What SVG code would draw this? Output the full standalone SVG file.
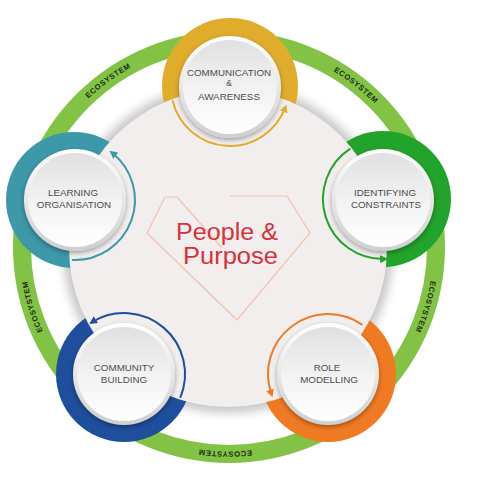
<svg xmlns="http://www.w3.org/2000/svg" width="489" height="481" viewBox="0 0 489 481">
<style>
.lbl{font-family:"Liberation Sans",Arial,sans-serif;font-size:9.8px;fill:#4d4d4d;text-anchor:middle}
.eco{font-family:"Liberation Sans",Arial,sans-serif;font-size:7.6px;font-weight:bold;fill:#1c2e12;letter-spacing:0.6px}
.conn{fill:none;stroke-width:2}
.rim{fill:url(#rim)}
.face{fill:url(#face)}
.big{font-family:"Liberation Sans",Arial,sans-serif;font-size:23px;fill:#d6323a}
</style>
<defs>
<radialGradient id="discShadow" cx="228" cy="248" r="176" gradientUnits="userSpaceOnUse">
<stop offset="0.88" stop-color="#bcbcbc"/>
<stop offset="0.93" stop-color="#dcdcdc"/>
<stop offset="1" stop-color="#ffffff" stop-opacity="0"/>
</radialGradient>
<linearGradient id="rim" x1="0" y1="0" x2="0" y2="1">
<stop offset="0" stop-color="#ffffff"/>
<stop offset="1" stop-color="#cfcfcf"/>
</linearGradient>
<linearGradient id="face" x1="0" y1="0" x2="0" y2="1">
<stop offset="0" stop-color="#e0e0e0"/>
<stop offset="0.5" stop-color="#f2f2f2"/>
<stop offset="1" stop-color="#ffffff"/>
</linearGradient>
<filter id="sh" x="-30%" y="-30%" width="160%" height="160%">
<feGaussianBlur in="SourceAlpha" stdDeviation="2.5"/>
<feOffset dx="0" dy="2" result="o"/>
<feComponentTransfer><feFuncA type="linear" slope="0.35"/></feComponentTransfer>
<feMerge><feMergeNode/><feMergeNode in="SourceGraphic"/></feMerge>
</filter>
<mask id="outside" maskUnits="userSpaceOnUse" x="0" y="0" width="489" height="481">
<rect width="489" height="481" fill="#fff"/>
<circle cx="228" cy="248" r="159" fill="#000"/>
</mask>
<marker id="aY" markerUnits="userSpaceOnUse" markerWidth="8" markerHeight="8" refX="5" refY="4" orient="auto"><path d="M0,0 L8,4 L0,8 z" fill="#e0ac2c"/></marker>
<marker id="aG" markerUnits="userSpaceOnUse" markerWidth="8" markerHeight="8" refX="5" refY="4" orient="auto"><path d="M0,0 L8,4 L0,8 z" fill="#22a32b"/></marker>
<marker id="aO" markerUnits="userSpaceOnUse" markerWidth="8" markerHeight="8" refX="5" refY="4" orient="auto"><path d="M0,0 L8,4 L0,8 z" fill="#f07a22"/></marker>
<marker id="aB" markerUnits="userSpaceOnUse" markerWidth="8" markerHeight="8" refX="5" refY="4" orient="auto"><path d="M0,0 L8,4 L0,8 z" fill="#1e4f9d"/></marker>
<marker id="aT" markerUnits="userSpaceOnUse" markerWidth="8" markerHeight="8" refX="5" refY="4" orient="auto"><path d="M0,0 L8,4 L0,8 z" fill="#3d98aa"/></marker>
<path id="ecoPath" d="M 433.5 247 A 204.5 204.5 0 1 1 24.5 247 A 204.5 204.5 0 1 1 433.5 247"/>
</defs>
<rect width="489" height="481" fill="#ffffff"/>

<g id="ecosystem">
<circle cx="229" cy="247" r="207" fill="none" stroke="#82c244" stroke-width="18"/>
<text class="eco"><textPath href="#ecoPath" startOffset="65%" text-anchor="middle">ECOSYSTEM</textPath></text>
<text class="eco"><textPath href="#ecoPath" startOffset="85.6%" text-anchor="middle">ECOSYSTEM</textPath></text>
<text class="eco"><textPath href="#ecoPath" startOffset="4.7%" text-anchor="middle">ECOSYSTEM</textPath></text>
<text class="eco"><textPath href="#ecoPath" startOffset="25.3%" text-anchor="middle">ECOSYSTEM</textPath></text>
<text class="eco"><textPath href="#ecoPath" startOffset="45.3%" text-anchor="middle">ECOSYSTEM</textPath></text>
</g>

<g id="center">
<circle cx="228" cy="248" r="176" fill="url(#discShadow)"/>
<circle cx="228" cy="248" r="159" fill="#f2eeee"/>
<g fill="none" stroke="#f0c3b2" stroke-width="1.2">
<polyline points="177,197 165,197 147,233 237,320 310,233 287,196 230,196"/>
<line x1="177" y1="197" x2="222" y2="248"/>
</g>
<text class="big" x="176" y="239.5" textLength="102" lengthAdjust="spacingAndGlyphs">People &amp;</text>
<text class="big" x="183" y="264" textLength="95" lengthAdjust="spacingAndGlyphs">Purpose</text>
</g>

<g id="connectors">
<path class="conn" stroke="#e0ac2c" d="M172.5,100.3 A59,59 0 0 0 285.4,107.2" marker-end="url(#aY)"/>
<path class="conn" stroke="#22a32b" d="M350.3,148.7 A60,60 0 0 0 385.1,259" marker-end="url(#aG)"/>
<path class="conn" stroke="#f07a22" d="M362.4,324.9 A60,60 0 0 0 271.6,394.5" marker-end="url(#aO)"/>
<path class="conn" stroke="#1e4f9d" d="M180.2,397.8 A61,61 0 0 0 91.7,322.3" marker-end="url(#aB)"/>
<path class="conn" stroke="#3d98aa" d="M71.9,259.9 A60,60 0 0 0 111.9,152.7" marker-end="url(#aT)"/>
</g>

<g id="node-communication">
<circle cx="230" cy="86" r="68" fill="#e0ac2c" mask="url(#outside)"/>
<circle class="rim" cx="230" cy="87" r="51" filter="url(#sh)"/>
<circle class="face" cx="230" cy="87" r="47"/>
<text class="lbl" x="229" y="76">COMMUNICATION</text>
<text class="lbl" x="229" y="85.5" style="font-size:8.5px">&amp;</text>
<text class="lbl" x="229" y="100">AWARENESS</text>
</g>

<g id="node-identifying">
<circle cx="383" cy="199" r="68" fill="#22a32b" mask="url(#outside)"/>
<circle class="rim" cx="383" cy="200" r="51" filter="url(#sh)"/>
<circle class="face" cx="383" cy="200" r="47"/>
<text class="lbl" x="385" y="196">IDENTIFYING</text>
<text class="lbl" x="386" y="208">CONSTRAINTS</text>
</g>

<g id="node-role">
<circle cx="328" cy="374" r="68" fill="#f07a22" mask="url(#outside)"/>
<circle class="rim" cx="328" cy="374" r="51" filter="url(#sh)"/>
<circle class="face" cx="328" cy="374" r="47"/>
<text class="lbl" x="327" y="371">ROLE</text>
<text class="lbl" x="329" y="383">MODELLING</text>
</g>

<g id="node-community">
<circle cx="124" cy="374" r="68" fill="#1e4f9d" mask="url(#outside)"/>
<circle class="rim" cx="124" cy="374" r="51" filter="url(#sh)"/>
<circle class="face" cx="124" cy="374" r="47"/>
<text class="lbl" x="124" y="371">COMMUNITY</text>
<text class="lbl" x="124" y="383">BUILDING</text>
</g>

<g id="node-learning">
<circle cx="74" cy="200" r="68" fill="#3d98aa" mask="url(#outside)"/>
<circle class="rim" cx="75" cy="200" r="51" filter="url(#sh)"/>
<circle class="face" cx="75" cy="200" r="47"/>
<text class="lbl" x="73" y="196">LEARNING</text>
<text class="lbl" x="74" y="208">ORGANISATION</text>
</g>
</svg>
